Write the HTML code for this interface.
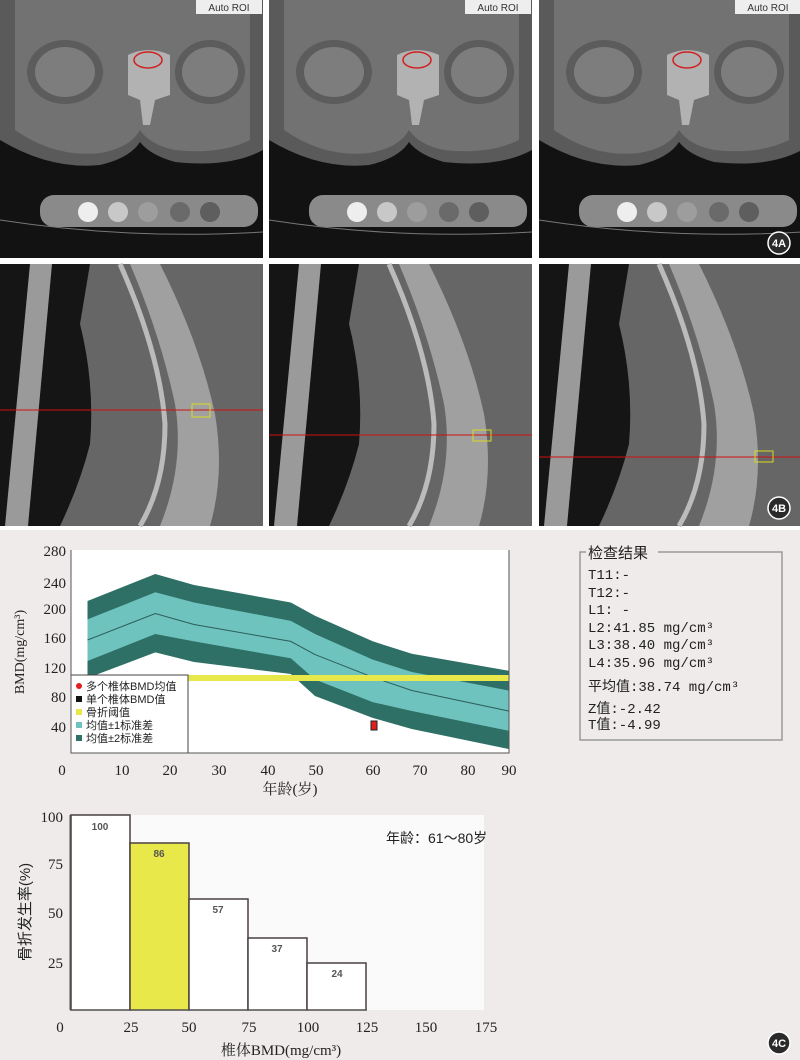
<!DOCTYPE html>
<html><head><meta charset="utf-8"><style>
body{margin:0;width:800px;height:1060px;overflow:hidden;background:#efebea;}
svg{display:block}
text{font-family:"Liberation Serif","Noto Serif CJK SC",serif;}
.cj,.cj text{font-family:"Liberation Sans","Noto Sans CJK SC",sans-serif;}
.mo,.mo text{font-family:"Liberation Mono","Noto Sans CJK SC",monospace;}
</style></head><body>
<svg width="800" height="1060" viewBox="0 0 800 1060" xmlns="http://www.w3.org/2000/svg">
<defs>
<g id="ax">
<rect x="0" y="0" width="263" height="258" fill="#121212"/>
<path d="M0 0 H263 V150 Q230 168 175 162 Q150 155 140 142 Q130 158 100 165 Q50 170 0 140 Z" fill="#5a5a5a"/>
<path d="M15 0 H250 V140 Q220 155 175 150 Q150 145 140 130 Q130 148 100 153 Q55 158 15 130 Z" fill="#727272"/>
<ellipse cx="65" cy="72" rx="38" ry="32" fill="#5c5c5c"/>
<ellipse cx="65" cy="72" rx="30" ry="25" fill="#7d7d7d"/>
<ellipse cx="210" cy="72" rx="35" ry="32" fill="#5c5c5c"/>
<ellipse cx="210" cy="72" rx="28" ry="25" fill="#7d7d7d"/>
<path d="M128 55 Q148 45 170 55 L170 95 L155 100 L150 125 L143 125 L140 100 L128 95Z" fill="#bdbdbd" opacity="0.85"/>
<ellipse cx="148" cy="60" rx="14" ry="8" fill="none" stroke="#d02020" stroke-width="1.5"/>
<rect x="40" y="195" width="218" height="32" rx="14" fill="#8a8a8a"/>
<circle cx="88" cy="212" r="10" fill="#eee"/><circle cx="118" cy="212" r="10" fill="#c8c8c8"/><circle cx="148" cy="212" r="10" fill="#9d9d9d"/><circle cx="180" cy="212" r="10" fill="#6a6a6a"/><circle cx="210" cy="212" r="10" fill="#5e5e5e"/>
<path d="M0 220 Q130 240 263 232" stroke="#777" fill="none"/>
<rect x="196" y="0" width="66" height="14" fill="#eee"/>
<text x="229" y="11" font-size="10" text-anchor="middle" class="cj" fill="#333">Auto ROI</text>
</g>
<g id="sg">
<rect x="0" y="0" width="263" height="262" fill="#151515"/>
<polygon points="30,0 52,0 28,262 5,262" fill="#9a9a9a"/>
<path d="M90 0 H263 V262 H60 Q80 220 90 180 Q95 120 80 60 Z" fill="#666"/>
<path d="M160 0 Q200 80 215 150 Q225 210 210 262 L160 262 Q185 200 175 140 Q160 70 130 0Z" fill="#a0a0a0"/>
<path d="M120 0 Q160 90 165 160 Q165 220 140 262" stroke="#bbb" stroke-width="5" fill="none"/>
</g>
</defs>
<rect width="800" height="530" fill="#fff"/>
<use href="#ax" x="0" y="0"/><use href="#ax" x="269" y="0"/><use href="#ax" x="539" y="0"/>
<use href="#sg" x="0" y="264"/><use href="#sg" x="269" y="264"/><use href="#sg" x="539" y="264"/>
<line x1="0" y1="410" x2="263" y2="410" stroke="#d01010"/>
<line x1="269" y1="435" x2="532" y2="435" stroke="#d01010"/>
<line x1="539" y1="457" x2="800" y2="457" stroke="#d01010"/>
<rect x="192" y="404" width="18" height="13" fill="none" stroke="#d8d820"/>
<rect x="473" y="430" width="18" height="11" fill="none" stroke="#d8d820"/>
<rect x="755" y="451" width="18" height="11" fill="none" stroke="#d8d820"/>
<g font-size="11" class="cj" font-weight="bold" text-anchor="middle" fill="#fff">
<circle cx="779" cy="243" r="11" fill="#2a2a2a" stroke="#fff" stroke-width="1.5"/><text x="779" y="247">4A</text>
<circle cx="779" cy="508" r="11" fill="#2a2a2a" stroke="#fff" stroke-width="1.5"/><text x="779" y="512">4B</text>
<circle cx="779" cy="1043" r="11" fill="#2a2a2a" stroke="#fff" stroke-width="1.5"/><text x="779" y="1047">4C</text>
</g>
<!-- chart 1 -->
<rect x="71" y="550" width="438" height="203" fill="#fff"/>
<polygon points="87.5,601 155.3,574 194,585 290.8,602.5 315,615.7 373,641.4 411.8,653.8 508.6,670.7 508.6,749 411.8,729 373,718 315,696 290.8,674 194,662 155.3,652.4 87.5,678" fill="#2e7065"/>
<polygon points="87.5,619.4 155.3,592.3 194,602.5 290.8,620.9 315,634 373,659.7 411.8,672 508.6,690.5 508.6,730.8 411.8,711 373,702.2 315,679.5 290.8,658.2 194,641.4 155.3,634 87.5,661" fill="#6fc3bf"/>
<polyline points="87.5,640 155.3,613.5 194,624.5 290.8,641.4 315,654.6 373,677.3 411.8,690.5 508.6,711" fill="none" stroke="#2b5e58" stroke-width="1"/>
<rect x="73" y="675" width="436" height="6" fill="#e8e84a"/>
<rect x="71" y="675" width="117" height="78" fill="#fff" stroke="#444"/>
<g font-size="11" class="cj" fill="#222">
<circle cx="79" cy="686" r="3" fill="#e02020"/><text x="86" y="690">多个椎体BMD均值</text>
<rect x="76" y="696" width="6" height="6" fill="#111"/><text x="86" y="703">单个椎体BMD值</text>
<rect x="76" y="709" width="6" height="6" fill="#e8e84a"/><text x="86" y="716">骨折阈值</text>
<rect x="76" y="722" width="6" height="6" fill="#6fc3bf"/><text x="86" y="729">均值±1标准差</text>
<rect x="76" y="735" width="6" height="6" fill="#2e7065"/><text x="86" y="742">均值±2标准差</text>
</g>
<rect x="371" y="721" width="6" height="9" fill="#e02020" stroke="#222"/>
<polyline points="71,550 71,753 509,753 509,550" fill="none" stroke="#555"/>
<g font-size="15" text-anchor="end" fill="#222">
<text x="66" y="556">280</text><text x="66" y="588">240</text><text x="66" y="614">200</text><text x="66" y="643">160</text><text x="66" y="673">120</text><text x="66" y="702">80</text><text x="66" y="732">40</text>
</g>
<g font-size="15" text-anchor="middle" fill="#222">
<text x="62" y="775">0</text><text x="122" y="775">10</text><text x="170" y="775">20</text><text x="219" y="775">30</text><text x="268" y="775">40</text><text x="316" y="775">50</text><text x="373" y="775">60</text><text x="420" y="775">70</text><text x="468" y="775">80</text><text x="509" y="775">90</text>
<text x="290" y="794">年龄(岁)</text>
</g>
<text transform="translate(24,652) rotate(-90)" font-size="14" text-anchor="middle" fill="#222">BMD(mg/cm³)</text>
<!-- results box -->
<rect x="580" y="552" width="202" height="188" fill="none" stroke="#999" stroke-width="1.5"/>
<rect x="586" y="543" width="72" height="18" fill="#efebea"/>
<text x="588" y="558" font-size="15" class="cj" fill="#222">检查结果</text>
<g class="mo" font-size="14" fill="#222">
<text x="588" y="579">T11:-</text><text x="588" y="597">T12:-</text><text x="588" y="614">L1: -</text>
<text x="588" y="632">L2:41.85 mg/cm³</text><text x="588" y="649">L3:38.40 mg/cm³</text><text x="588" y="667">L4:35.96 mg/cm³</text>
<text x="588" y="691">平均值:38.74 mg/cm³</text>
<text x="588" y="713">Z值:-2.42</text><text x="588" y="729">T值:-4.99</text>
</g>
<!-- chart 2 -->
<rect x="70" y="815" width="414" height="195" fill="#fafafa"/>
<g stroke="#4a4040" stroke-width="1.5">
<rect x="71" y="815" width="59" height="195" fill="#fff"/>
<rect x="130" y="843" width="59" height="167" fill="#e8e84a"/>
<rect x="189" y="899" width="59" height="111" fill="#fff"/>
<rect x="248" y="938" width="59" height="72" fill="#fff"/>
<rect x="307" y="963" width="59" height="47" fill="#fff"/>
</g>
<line x1="70" y1="815" x2="70" y2="1010" stroke="#555"/>
<line x1="70" y1="1010" x2="367" y2="1010" stroke="#555"/>
<g font-size="10" class="cj" font-weight="bold" text-anchor="middle" fill="#555">
<text x="100" y="830">100</text><text x="159" y="857">86</text><text x="218" y="913">57</text><text x="277" y="952">37</text><text x="337" y="977">24</text>
</g>
<text x="386" y="843" font-size="14" class="cj" fill="#222">年龄：61～80岁</text>
<g font-size="15" text-anchor="end" fill="#222">
<text x="63" y="822">100</text><text x="63" y="869">75</text><text x="63" y="918">50</text><text x="63" y="968">25</text>
</g>
<g font-size="15" text-anchor="middle" fill="#222">
<text x="60" y="1032">0</text><text x="131" y="1032">25</text><text x="189" y="1032">50</text><text x="249" y="1032">75</text><text x="308" y="1032">100</text><text x="367" y="1032">125</text><text x="426" y="1032">150</text><text x="486" y="1032">175</text>
<text x="281" y="1055">椎体BMD(mg/cm³)</text>
</g>
<text transform="translate(30,912) rotate(-90)" font-size="15" text-anchor="middle" class="cj" fill="#222">骨折发生率(%)</text>
</svg>
</body></html>
